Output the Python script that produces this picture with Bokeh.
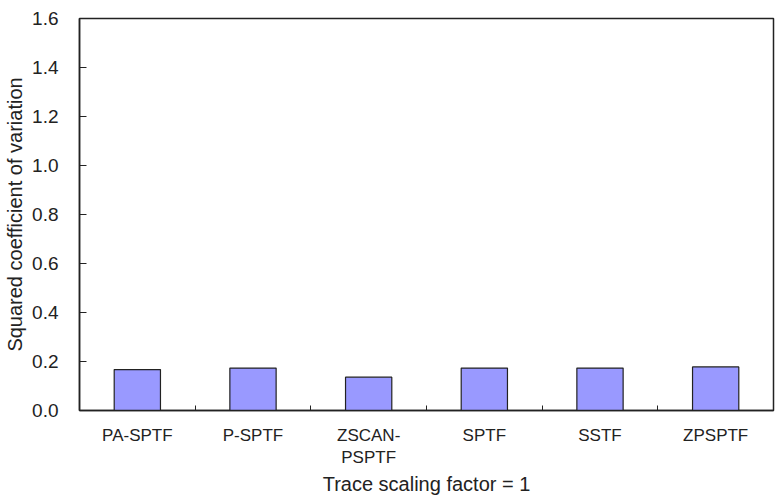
from bokeh.plotting import figure
from bokeh.models import FixedTicker, LinearAxis, ColumnDataSource
from bokeh.embed import file_html
from bokeh.resources import INLINE

categories = ["PA-SPTF", "P-SPTF", "ZSCAN-\nPSPTF", "SPTF", "SSTF", "ZPSPTF"]
values = [0.167, 0.173, 0.136, 0.173, 0.173, 0.178]
y_ticks = [0.0, 0.2, 0.4, 0.6, 0.8, 1.0, 1.2, 1.4, 1.6]
x_title = "Trace scaling factor = 1"
y_title = "Squared coefficient of variation"

n = len(categories)
xs = [i + 0.5 for i in range(n)]
src = ColumnDataSource(dict(x=xs, top=values, cat=categories))

FONT = "Liberation Sans"
p = figure(width=784, height=498, output_backend="svg", toolbar_location=None,
           x_range=(0, n), y_range=(0, 1.6), x_axis_type=None,
           min_border_left=79, min_border_right=11, min_border_top=18, min_border_bottom=88)
p.vbar(x="x", top="top", width=0.4, bottom=0, source=src,
       fill_color="#9999ff", line_color="#222222", line_width=1.2)

xaxis = LinearAxis(ticker=FixedTicker(ticks=xs, minor_ticks=[float(i) for i in range(1, n)]))
xaxis.major_label_overrides = {x: c for x, c in zip(xs, categories)}
xaxis.major_tick_line_color = None
xaxis.major_tick_out = 0
xaxis.minor_tick_in = 5
xaxis.minor_tick_out = 0
xaxis.minor_tick_line_color = "#222222"
xaxis.axis_line_color = "#222222"
xaxis.axis_line_width = 1.5
xaxis.major_label_standoff = 15
xaxis.major_label_text_font = FONT
xaxis.major_label_text_font_size = "17px"
xaxis.major_label_text_line_height = 1.2
xaxis.major_label_text_color = "#222222"
xaxis.axis_label = x_title
xaxis.axis_label_text_font = FONT
xaxis.axis_label_text_font_size = "20px"
xaxis.axis_label_text_font_style = "normal"
xaxis.axis_label_text_color = "#222222"
xaxis.axis_label_standoff = 3
p.add_layout(xaxis, "below")

ya = p.yaxis[0]
ya.ticker = FixedTicker(ticks=y_ticks)
ya.major_label_overrides = {t: f"{t:.1f}" for t in y_ticks}
ya.major_tick_in = 7
ya.major_tick_out = 0
ya.minor_tick_line_color = None
ya.major_tick_line_color = "#222222"
ya.axis_line_color = "#222222"
ya.axis_line_width = 1.5
ya.major_label_standoff = 21
ya.major_label_text_font = FONT
ya.major_label_text_font_size = "19px"
ya.major_label_text_color = "#222222"
ya.axis_label = y_title
ya.axis_label_text_font = FONT
ya.axis_label_text_font_size = "20px"
ya.axis_label_text_font_style = "normal"
ya.axis_label_text_color = "#222222"
ya.axis_label_standoff = 3

p.xgrid.visible = False
p.ygrid.visible = False
p.outline_line_color = "#222222"
p.outline_line_width = 1.5
p.background_fill_color = "white"
p.border_fill_color = "white"

open("out.html", "w").write(file_html(p, INLINE))
